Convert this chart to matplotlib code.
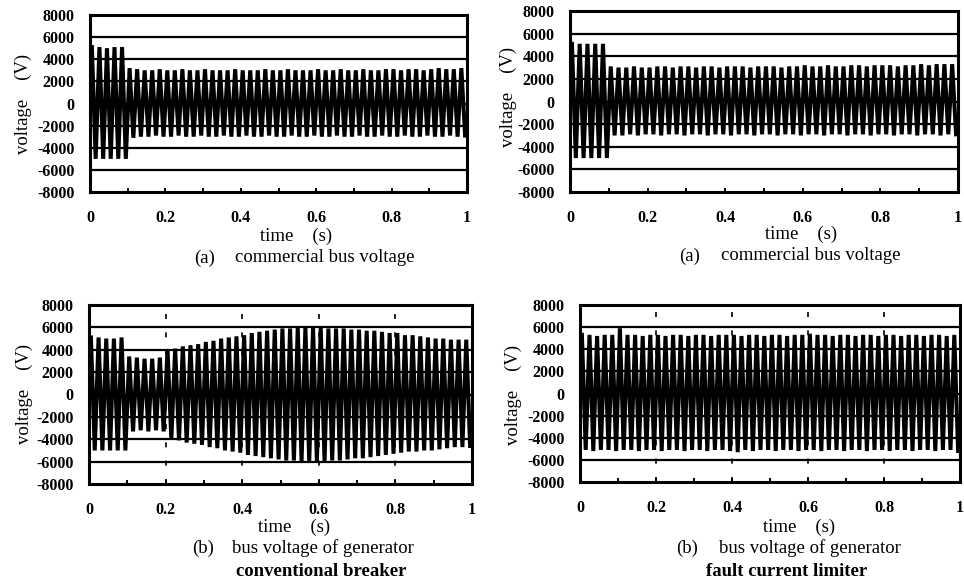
import numpy as np
import matplotlib
matplotlib.use('Agg')
import matplotlib.pyplot as plt

plt.rcParams['font.family'] = ['Liberation Serif', 'DejaVu Serif']
plt.rcParams['axes.unicode_minus'] = False

# supply frequency (Hz) -> one positive and one negative peak per cycle
freq = 50

# (a) commercial bus voltage, left figure: peak per cycle (V)
a1_pos = [5100, 5100, 5000, 5100, 5100,
          3200, 3100, 3000, 3000, 3100, 3000, 3000, 3100, 3000, 3000,
          3100, 3000, 3000, 3000, 3100, 3000, 3000, 3000, 3100, 3000,
          3000, 3100, 3000, 3000, 3000, 3100, 3000, 3000, 3100, 3000,
          3000, 3100, 3000, 3000, 3100, 3100, 3000, 3100, 3100, 3000,
          3100, 3200, 3100, 3100, 3200]
a1_neg = [-5000, -5000, -5000, -5000, -5000,
          -3100, -3000, -3000, -2900, -3000, -3000, -2900, -3000, -3000, -2900,
          -3000, -3000, -2900, -3000, -3000, -2900, -3000, -3000, -2900, -3000,
          -3000, -2900, -3000, -3000, -2900, -3000, -3000, -2900, -3000, -3000,
          -2900, -3000, -3000, -2900, -3000, -3000, -2900, -3000, -3000, -2900,
          -3000, -3000, -2900, -3000, -2900]

# (a) commercial bus voltage, right figure
a2_pos = [5100, 5100, 5100, 5100, 5100,
          3100, 3000, 3000, 3100, 3000, 3000, 3100, 3100, 3000, 3100,
          3100, 3000, 3100, 3100, 3000, 3100, 3100, 3100, 3000, 3100,
          3100, 3100, 3000, 3100, 3100, 3200, 3100, 3100, 3200, 3100,
          3100, 3200, 3200, 3100, 3200, 3200, 3200, 3100, 3200, 3200,
          3300, 3200, 3300, 3300, 3300]
a2_neg = [-5000, -5000, -5000, -5000, -5000,
          -3000, -3000, -2900, -3000, -2900, -2900, -3000, -2900, -2900, -3000,
          -2900, -2900, -3000, -2900, -2900, -3000, -2900, -2900, -3000, -2900,
          -2900, -3000, -2900, -2900, -3000, -2900, -2900, -3000, -2900, -2900,
          -3000, -2900, -2900, -3000, -2900, -2900, -3000, -2900, -2900, -3000,
          -2900, -2900, -3000, -2900, -2900]

# (b) bus voltage of generator, conventional breaker
b1_pos = [5100, 5100, 5000, 5000, 5100,
          3400, 3300, 3200, 3200, 3300,
          4000, 4100, 4300, 4400, 4500, 4700, 4800, 5000, 5100, 5200,
          5300, 5500, 5600, 5700, 5800, 5900, 5900, 6000, 6000, 6000,
          6000, 5900, 5900, 5900, 5800, 5800, 5700, 5700, 5600, 5500,
          5500, 5300, 5300, 5200, 5100, 5000, 5000, 4900, 4900, 4900]
b1_neg = [-5000, -5000, -5000, -5000, -5000,
          -3300, -3200, -3300, -3200, -3300,
          -4000, -4100, -4300, -4400, -4500, -4700, -4800, -5000, -5100, -5200,
          -5400, -5500, -5600, -5700, -5800, -5900, -5900, -6000, -6000, -6000,
          -6000, -5900, -5900, -5800, -5700, -5700, -5600, -5500, -5400, -5300,
          -5200, -5100, -5100, -5000, -5000, -4900, -4800, -4700, -4700, -4600]

# (b) bus voltage of generator, fault current limiter
b2_pos = [5300, 5300, 5200, 5300, 5300,
          5900, 5300, 5300, 5200, 5300, 5300, 5200, 5300, 5300, 5200,
          5300, 5300, 5200, 5300, 5300, 5300, 5200, 5300, 5300, 5200,
          5300, 5300, 5200, 5300, 5300, 5400, 5300, 5300, 5200, 5300,
          5300, 5200, 5300, 5300, 5200, 5300, 5300, 5200, 5300, 5300,
          5200, 5300, 5300, 5200, 5300]
b2_neg = [-5100, -5200, -5100, -5100, -5200,
          -5100, -5100, -5200, -5100, -5100, -5200, -5100, -5100, -5200, -5100,
          -5100, -5200, -5100, -5100, -5200, -5300, -5100, -5200, -5100, -5100,
          -5200, -5100, -5100, -5200, -5100, -5100, -5200, -5100, -5100, -5200,
          -5100, -5100, -5200, -5100, -5100, -5200, -5100, -5100, -5200, -5100,
          -5100, -5200, -5100, -5100, -5200]

xticks = [0, 0.2, 0.4, 0.6, 0.8, 1]
xticklabels = ['0', '0.2', '0.4', '0.6', '0.8', '1']
yticks = [-8000, -6000, -4000, -2000, 0, 2000, 4000, 6000, 8000]


def wave(pos, neg):
    n = len(pos)
    tp = (np.arange(n) + 0.25) / freq
    tn = (np.arange(n) + 0.75) / freq
    t = np.empty(2 * n)
    v = np.empty(2 * n)
    t[0::2], t[1::2] = tp, tn
    v[0::2], v[1::2] = pos, neg
    return t, v


W, H = 964, 587
fig = plt.figure(figsize=(W / 100, H / 100), dpi=100)


def px_axes(l, t, r, b):
    return fig.add_axes([l / W, 1 - b / H, (r - l) / W, (b - t) / H])


panels = [
    (px_axes(90, 15, 467, 192), a1_pos, a1_neg, False),
    (px_axes(570, 11, 958, 192), a2_pos, a2_neg, False),
    (px_axes(89, 305, 472, 484), b1_pos, b1_neg, True),
    (px_axes(580, 305, 960, 482), b2_pos, b2_neg, True),
]

for ax, pos, neg, vgrid in panels:
    t, v = wave(pos, neg)
    for y in yticks[1:-1]:
        ax.axhline(y, color='black', lw=1.6, zorder=1)
    if vgrid:
        for x in xticks[1:-1]:
            ax.axvline(x, color='black', lw=1.2, ls=(0, (3, 8)), zorder=1)
    ax.plot(t, v, color='black', lw=2.9, solid_joinstyle='miter', zorder=2)
    ax.set_xlim(0, 1)
    ax.set_ylim(-8000, 8000)
    ax.set_xticks(xticks)
    ax.set_xticklabels(xticklabels)
    ax.set_xticks([0.1, 0.3, 0.5, 0.7, 0.9], minor=True)
    ax.set_yticks(yticks)
    ax.tick_params(axis='both', which='both', direction='in', length=3,
                   width=1.4, labelsize=11.5)
    ax.tick_params(axis='x', pad=13)
    ax.tick_params(axis='y', pad=11)
    for lab in ax.get_xticklabels() + ax.get_yticklabels():
        lab.set_fontweight('bold')
    for s in ax.spines.values():
        s.set_linewidth(2.2)


def ftext(x, y, s, **kw):
    fig.text(x / W, 1 - y / H, s, ha='center', va='center', **kw)


fs = 13.5
# axis titles
ftext(23, 104, 'voltage    (V)', rotation=90, fontsize=fs)
ftext(508, 97, 'voltage    (V)', rotation=90, fontsize=fs)
ftext(24, 394, 'voltage    (V)', rotation=90, fontsize=fs)
ftext(513, 395, 'voltage    (V)', rotation=90, fontsize=fs)
ftext(296, 236, 'time    (s)', fontsize=fs)
ftext(801, 234, 'time    (s)', fontsize=fs)
ftext(294, 527, 'time    (s)', fontsize=fs)
ftext(799, 527, 'time    (s)', fontsize=fs)

# captions
ftext(205, 258, '(a)', fontsize=fs)
ftext(325, 258, 'commercial bus voltage', fontsize=fs)
ftext(690, 256, '(a)', fontsize=fs)
ftext(811, 256, 'commercial bus voltage', fontsize=fs)
ftext(203, 548, '(b)', fontsize=fs)
ftext(323, 548, 'bus voltage of generator', fontsize=fs)
ftext(321, 571, 'conventional breaker', fontsize=fs, fontweight='bold')
ftext(687, 548, '(b)', fontsize=fs)
ftext(810, 548, 'bus voltage of generator', fontsize=fs)
ftext(787, 571, 'fault current limiter', fontsize=fs, fontweight='bold')

fig.savefig('out.png', dpi=100)
